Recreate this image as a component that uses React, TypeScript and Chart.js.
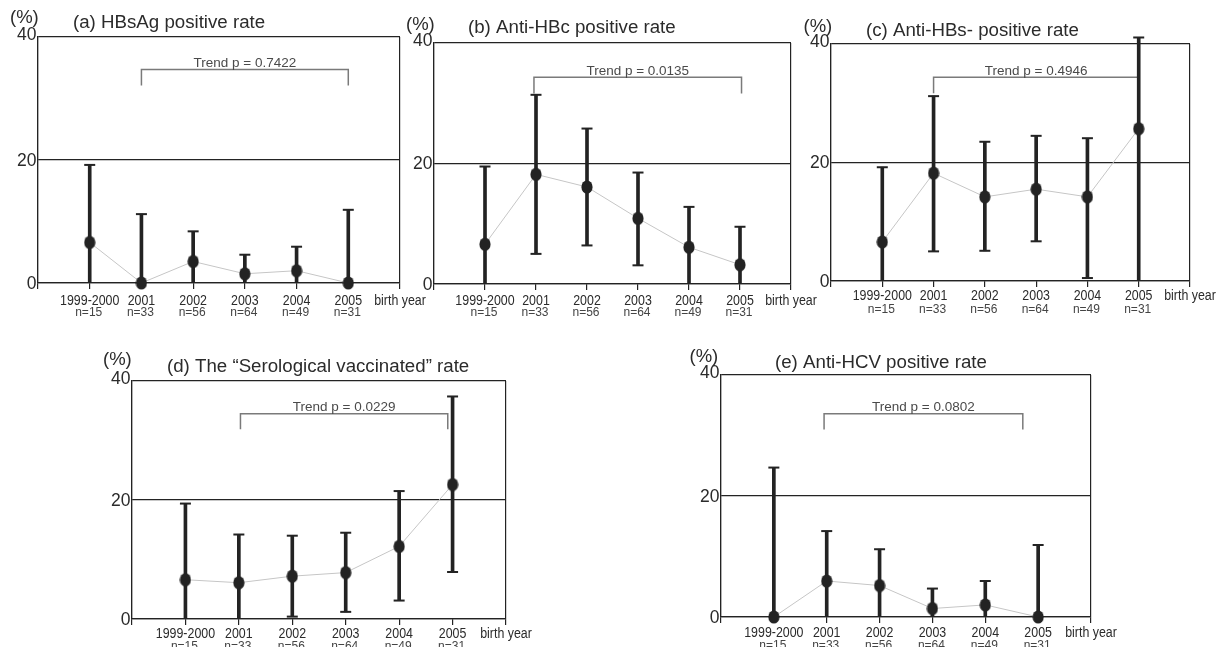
import React, { useEffect, useRef } from "react";
import { Chart, registerables } from "chart.js";
Chart.register(...registerables);

// ---------- data ----------
const categories = ["1999-2000", "2001", "2002", "2003", "2004", "2005"];
const sampleSizes = ["n=15", "n=33", "n=56", "n=64", "n=49", "n=31"];
const axisEndLabel = "birth year";
const yTickValues = [0, 20, 40];

const titleA = "(a) HBsAg positive rate";
const rateA = [6.6, 0, 3.5, 1.5, 2.0, 0];
const upperA = [19.2, 11.2, 8.4, 4.6, 5.9, 11.9];
const lowerA = [0, 0, 0, 0, 0, 0];
const trendA = "Trend p = 0.7422";
const bracketXA = [1, 5];
const bracketYA = [32.1, 34.7];

const titleB = "(b) Anti-HBc positive rate";
const rateB = [6.6, 18.2, 16.1, 10.9, 6.1, 3.2];
const upperB = [19.5, 31.4, 25.8, 18.5, 12.8, 9.5];
const lowerB = [0, 5.0, 6.4, 3.1, 0, 0];
const trendB = "Trend p = 0.0135";
const bracketXB = [0.96, 5.03];
const bracketYB = [31.6, 34.3];

const titleC = "(c) Anti-HBs- positive rate";
const rateC = [6.6, 18.2, 14.2, 15.5, 14.2, 25.7];
const upperC = [19.2, 31.2, 23.5, 24.5, 24.1, 41.1];
const lowerC = [0, 5.0, 5.1, 6.7, 0.5, 0];
const trendC = "Trend p = 0.4946";
const bracketXC = [1, 5];
const bracketYC = [31.7, 34.4];

const titleD = "(d) The \u201cSerological vaccinated\u201d rate";
const rateD = [6.6, 6.1, 7.2, 7.8, 12.2, 22.6];
const upperD = [19.4, 14.2, 14.0, 14.5, 21.5, 37.4];
const lowerD = [0, 0, 0.4, 1.2, 3.1, 7.9];
const trendD = "Trend p = 0.0229";
const bracketXD = [1.03, 4.91];
const bracketYD = [31.9, 34.5];

const titleE = "(e) Anti-HCV positive rate";
const rateE = [0, 5.95, 5.2, 1.4, 2.0, 0];
const upperE = [24.7, 14.2, 11.2, 4.7, 5.95, 11.9];
const lowerE = [0, 0, 0, 0, 0, 0];
const trendE = "Trend p = 0.0802";
const bracketXE = [0.95, 4.71];
const bracketYE = [31.0, 33.6];

// ---------- layout ----------
const W = 1224;
const H = 647;
const TICK = 6;

type Panel = {
  title: string; rate: number[]; upper: number[]; lower: number[];
  trend: string; bx: number[]; by: number[];
  area: { l: number; t: number; r: number; b: number };
  tdx: number; tdy: number; pdx: number; pdy: number; yearDy: number; nDy: number;
};

const panels: Panel[] = [
  { title: titleA, rate: rateA, upper: upperA, lower: lowerA, trend: trendA, bx: bracketXA, by: bracketYA,
    area: { l: 38, t: 37, r: 400, b: 283 }, tdx: 35, tdy: -9, pdx: -28, pdy: -14, yearDy: 17.5, nDy: 29.5 },
  { title: titleB, rate: rateB, upper: upperB, lower: lowerB, trend: trendB, bx: bracketXB, by: bracketYB,
    area: { l: 434, t: 43, r: 791, b: 284 }, tdx: 34, tdy: -10, pdx: -28, pdy: -13, yearDy: 16.5, nDy: 28.5 },
  { title: titleC, rate: rateC, upper: upperC, lower: lowerC, trend: trendC, bx: bracketXC, by: bracketYC,
    area: { l: 831, t: 44, r: 1190, b: 281 }, tdx: 35, tdy: -8, pdx: -27.5, pdy: -12, yearDy: 15, nDy: 29 },
  { title: titleD, rate: rateD, upper: upperD, lower: lowerD, trend: trendD, bx: bracketXD, by: bracketYD,
    area: { l: 132, t: 381, r: 506, b: 619 }, tdx: 35, tdy: -9, pdx: -29, pdy: -16, yearDy: 15, nDy: 27.5 },
  { title: titleE, rate: rateE, upper: upperE, lower: lowerE, trend: trendE, bx: bracketXE, by: bracketYE,
    area: { l: 721, t: 375, r: 1091, b: 617 }, tdx: 54, tdy: -7, pdx: -31.5, pdy: -13, yearDy: 16, nDy: 28.5 },
];

const INK = "#232323";
const TEXT = "#2b2b2b";
const FONT = '"Liberation Sans", Arial, Helvetica, sans-serif';

function makeDot() {
  const c = document.createElement("canvas");
  c.width = 12;
  c.height = 14;
  const g = c.getContext("2d")!;
  g.fillStyle = INK;
  g.beginPath();
  g.ellipse(6, 7, 5.6, 6.6, 0, 0, Math.PI * 2);
  g.fill();
  return c;
}

function condensed(ctx: CanvasRenderingContext2D, text: string, x: number, y: number, sx: number) {
  ctx.save();
  ctx.translate(x, y);
  ctx.scale(sx, 1);
  ctx.fillText(text, 0, 0);
  ctx.restore();
}

function makeChart(canvas: HTMLCanvasElement, p: Panel) {
  const dot = makeDot();
  const pts = p.rate.map((v, i) => ({ x: i, y: v }));
  const bars = p.rate.map((_, i) => ({ x: i, y: [p.lower[i], p.upper[i]] }));
  const upCaps = p.upper.map((v, i) => ({ x: i, y: v }));
  const lowCaps = p.lower.map((v, i) => ({ x: i, y: v })).filter((d) => d.y > 0);
  const bracket = [
    { x: p.bx[0], y: p.by[0] },
    { x: p.bx[0], y: p.by[1] },
    { x: p.bx[1], y: p.by[1] },
    { x: p.bx[1], y: p.by[0] },
  ];

  const textPlugin = {
    id: "panelText",
    afterDraw(chart: any) {
      const ctx: CanvasRenderingContext2D = chart.ctx;
      const xs = chart.scales.x;
      const ys = chart.scales.y;
      const area = chart.chartArea;
      ctx.save();
      ctx.fillStyle = TEXT;
      // y tick labels
      ctx.font = `17.5px ${FONT}`;
      ctx.textAlign = "right";
      ctx.textBaseline = "middle";
      yTickValues.forEach((v) => {
        const yy = ys.getPixelForValue(v) + (v === 40 ? -2 : 1);
        ctx.fillText(String(v), area.left - 1.5, yy);
      });
      // x labels
      const zero = ys.getPixelForValue(0);
      ctx.textAlign = "center";
      ctx.font = `15.5px ${FONT}`;
      categories.forEach((c, i) => {
        condensed(ctx, c, xs.getPixelForValue(i), zero + p.yearDy, 0.8);
      });
      condensed(ctx, axisEndLabel, xs.getPixelForValue(6), zero + p.yearDy, 0.8);
      ctx.font = `12px ${FONT}`;
      ctx.fillStyle = "#444";
      sampleSizes.forEach((n, i) => {
        ctx.fillText(n, xs.getPixelForValue(i) - 1, zero + p.nDy);
      });
      // title and unit
      ctx.fillStyle = TEXT;
      ctx.textAlign = "left";
      ctx.textBaseline = "alphabetic";
      ctx.font = `18.7px ${FONT}`;
      ctx.fillText(p.title, area.left + p.tdx, area.top + p.tdy);
      ctx.font = `18.5px ${FONT}`;
      ctx.fillText("(%)", area.left + p.pdx, area.top + p.pdy);
      // trend text
      ctx.font = `13.5px ${FONT}`;
      ctx.fillStyle = "#4a4a4a";
      ctx.textAlign = "center";
      const cx = (xs.getPixelForValue(p.bx[0]) + xs.getPixelForValue(p.bx[1])) / 2;
      ctx.fillText(p.trend, cx, ys.getPixelForValue(p.by[1]) - 2.5);
      ctx.restore();
    },
  };

  return new Chart(canvas, {
    type: "line",
    data: {
      datasets: [
        {
          type: "line", data: pts, borderColor: "#c6c6c6", borderWidth: 1, pointRadius: 0,
          tension: 0, order: 5, clip: false,
        } as any,
        {
          type: "line", data: bracket, borderColor: "#7a7a7a", borderWidth: 1.5, pointRadius: 0,
          tension: 0, order: 4, clip: false,
        } as any,
        {
          type: "bar", data: bars, backgroundColor: INK, borderWidth: 0, barThickness: 3,
          grouped: false, order: 3, clip: false,
        } as any,
        {
          type: "scatter", data: upCaps, pointStyle: "line", pointRadius: 5.5, pointBorderWidth: 2,
          pointBorderColor: INK, showLine: false, order: 2, clip: false,
        } as any,
        {
          type: "scatter", data: lowCaps, pointStyle: "line", pointRadius: 5.5, pointBorderWidth: 2,
          pointBorderColor: INK, showLine: false, order: 1, clip: false,
        } as any,
        {
          type: "scatter", data: pts, pointStyle: dot, pointRadius: 6, showLine: false, order: 0, clip: false,
        } as any,
      ],
    },
    options: {
      responsive: false,
      animation: false,
      devicePixelRatio: 1,
      events: [],
      layout: {
        padding: { left: p.area.l, top: p.area.t, right: W - p.area.r, bottom: H - p.area.b - TICK },
      },
      plugins: { legend: { display: false }, tooltip: { enabled: false }, title: { display: false } },
      scales: {
        x: {
          type: "linear", min: -1, max: 6, offset: false,
          ticks: { display: false, stepSize: 1 },
          grid: {
            offset: false,
            color: (c: any) => (c.tick && (c.tick.value === -1 || c.tick.value === 6) ? INK : "rgba(0,0,0,0)"),
            tickColor: INK,
            lineWidth: 1.2, drawTicks: true, tickLength: TICK,
          },
          border: { display: true, color: INK, width: 1.2 },
        },
        y: {
          type: "linear", min: 0, max: 40,
          ticks: { display: false, stepSize: 20 },
          grid: { color: INK, lineWidth: 1.2, drawTicks: false },
          border: { display: true, color: INK, width: 1.2 },
        },
      },
    } as any,
    plugins: [textPlugin],
  });
}

function PanelCanvas({ p }: { p: Panel }) {
  const ref = useRef<HTMLCanvasElement>(null);
  useEffect(() => {
    const chart = makeChart(ref.current!, p);
    return () => chart.destroy();
  }, [p]);
  return (
    <canvas
      ref={ref}
      width={W}
      height={H}
      style={{ position: "absolute", left: 0, top: 0, width: W, height: H, display: "block" }}
    />
  );
}

export default function App() {
  return (
    <div style={{ position: "absolute", left: 0, top: 0, width: W, height: H, overflow: "hidden", background: "#fff" }}>
      {panels.map((p, i) => (
        <PanelCanvas key={i} p={p} />
      ))}
    </div>
  );
}
